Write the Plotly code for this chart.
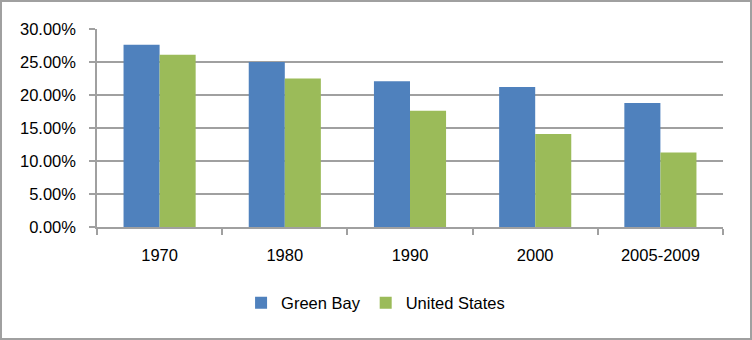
import plotly.graph_objects as go

# Share of population, by decade
periods = ["1970", "1980", "1990", "2000", "2005-2009"]
green_bay = [0.276, 0.250, 0.221, 0.212, 0.188]
united_states = [0.261, 0.225, 0.176, 0.141, 0.113]

W, H = 752, 340
L, R, T, B = 97, 29, 29, 113
pw, ph = W - L - R, H - T - B

font = dict(family="Liberation Sans, Arial, sans-serif", size=16.5, color="#000000")
grid = "#a0a0a0"

fig = go.Figure()
fig.add_trace(go.Bar(name="Green Bay", x=periods, y=green_bay,
                     marker=dict(color="#4f81bd", line=dict(width=0))))
fig.add_trace(go.Bar(name="United States", x=periods, y=united_states,
                     marker=dict(color="#9bbb59", line=dict(width=0))))

# outer frame around the whole chart
fig.add_shape(type="rect", xref="paper", yref="paper",
              x0=(1 - L) / pw, x1=(W - 1 - L) / pw,
              y0=(T + ph - (H - 1)) / ph, y1=(T + ph - 1) / ph,
              line=dict(color=grid, width=2), fillcolor="rgba(0,0,0,0)", layer="above")

fig.update_layout(
    width=W, height=H,
    margin=dict(l=L, r=R, t=T, b=B),
    paper_bgcolor="white", plot_bgcolor="white",
    barmode="group", bargap=0.424, bargroupgap=0,
    font=font,
    showlegend=True,
    legend=dict(orientation="h", x=0.445, xanchor="center", y=-0.384, yanchor="middle",
                font=font, itemwidth=30, traceorder="normal"),
    xaxis=dict(type="category", showline=True, linecolor=grid, linewidth=1.5,
               ticks="outside", tickson="boundaries", ticklen=6, tickcolor=grid,
               tickwidth=1.5, showgrid=False, tickfont=font, ticklabelstandoff=12),
    yaxis=dict(range=[0, 0.30], dtick=0.05, tickformat=".2%", showline=True,
               linecolor=grid, linewidth=1.5, ticks="outside", ticklen=6,
               tickcolor=grid, tickwidth=1.5, showgrid=True, gridcolor=grid,
               gridwidth=1.5, zeroline=False, tickfont=font, ticklabelstandoff=10),
)

fig.write_html("out.html")
